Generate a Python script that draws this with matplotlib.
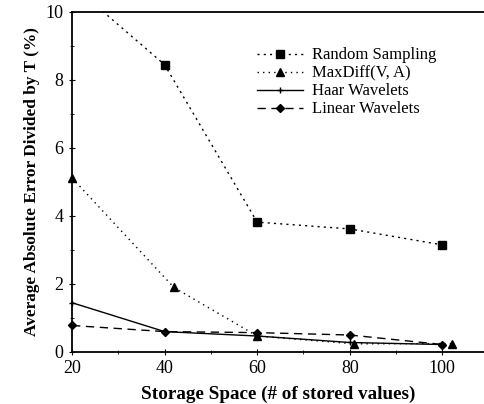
import matplotlib
matplotlib.use('Agg')
import matplotlib.pyplot as plt
from matplotlib.ticker import MultipleLocator

plt.rcParams['font.family'] = ['Liberation Serif', 'DejaVu Serif']

# data
x_rand = [20, 40, 60, 80, 100]
y_rand = [10.8, 8.45, 3.82, 3.62, 3.15]
x_maxd = [20, 42, 60, 81, 102]
y_maxd = [5.12, 1.9, 0.47, 0.24, 0.25]
x_haar = [20, 40, 60, 80, 100]
y_haar = [1.45, 0.6, 0.47, 0.28, 0.22]
x_lin = [20, 40, 60, 80, 100]
y_lin = [0.78, 0.6, 0.57, 0.5, 0.22]

fig = plt.figure(figsize=(4.84, 4.04), dpi=100)
ax = fig.add_axes([72/484, 52/404, 412/484, 340/404])

ax.plot(x_rand, y_rand, 'k', ls=(0, (1.5, 3)), lw=1.0, marker='s', ms=6,
        label='Random Sampling', clip_on=True)
ax.plot(x_maxd, y_maxd, 'k', ls=(0, (1, 3)), lw=1.0, marker='^', ms=6,
        label='MaxDiff(V, A)', clip_on=False)
ax.plot(x_haar, y_haar, 'k', ls='-', lw=1.0, marker='+', ms=5,
        label='Haar Wavelets', clip_on=False)
ax.plot(x_lin, y_lin, 'k', ls=(0, (6, 4)), lw=1.0, marker='D', ms=4.5,
        label='Linear Wavelets', clip_on=False)

ax.set_xlim(20, 109)
ax.set_ylim(0, 10)
ax.xaxis.set_major_locator(MultipleLocator(20))
ax.xaxis.set_minor_locator(MultipleLocator(10))
ax.yaxis.set_major_locator(MultipleLocator(2))
ax.yaxis.set_minor_locator(MultipleLocator(1))
ax.spines['right'].set_visible(False)
for s in ['left', 'bottom', 'top']:
    ax.spines[s].set_linewidth(1.3)
ax.tick_params(which='both', direction='inout', labelsize=13, top=False)
ax.tick_params(which='major', length=5)
ax.tick_params(which='minor', length=3)

ax.set_xlabel('Storage Space (# of stored values)', fontsize=13.8,
              fontweight='bold', labelpad=6)
ax.set_ylabel('Average Absolute Error Divided by T (%)', fontsize=12.4,
              fontweight='bold', labelpad=4)

ax.legend(loc='upper right', bbox_to_anchor=(0.92, 0.94), frameon=False,
          fontsize=12, handlelength=2.8, labelspacing=0.12, handletextpad=0.5)

fig.savefig('out.png', dpi=100)
